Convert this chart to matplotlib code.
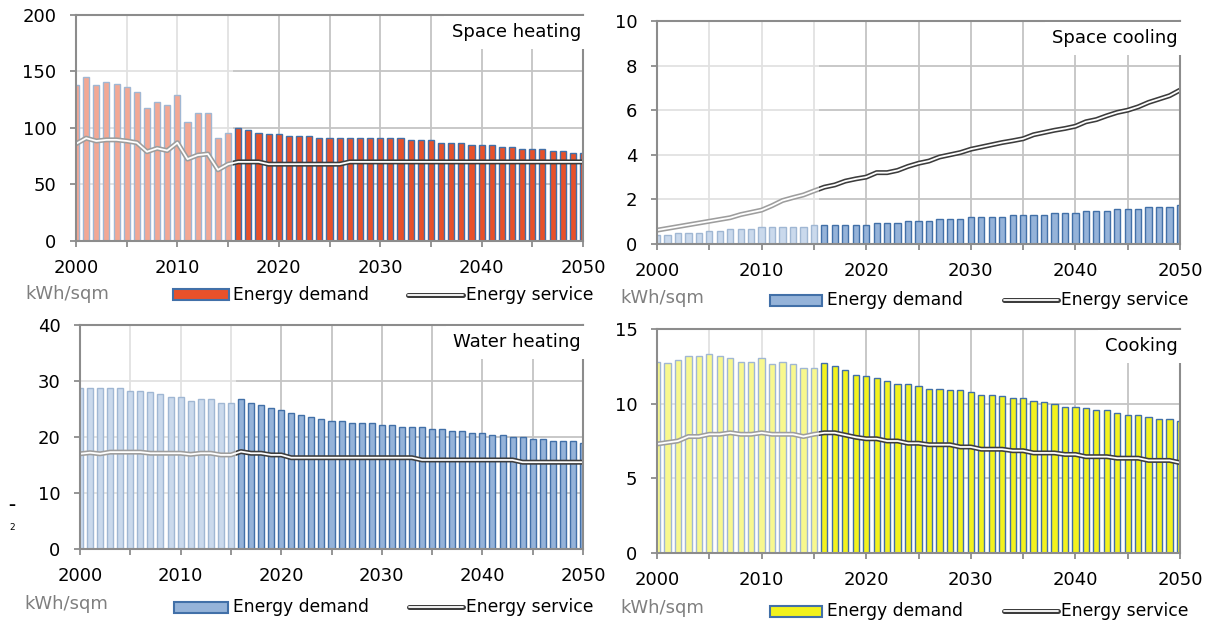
import numpy as np
import matplotlib
matplotlib.use("Agg")
import matplotlib.pyplot as plt
from matplotlib.patches import Rectangle
from matplotlib.lines import Line2D

plt.rcParams['font.family'] = ['DejaVu Sans']

W, H = 1212, 621

# ---------------- data ----------------
years = list(range(2000, 2051))

sh_demand = [138, 145, 138, 141, 139, 136, 132, 118, 123, 120,
             129, 105, 113, 113, 91, 96, 100, 98, 96, 94.5,
             94.5, 92.5, 92.5, 92.5, 91, 91, 91, 91, 91, 91,
             91, 91, 91, 89, 89, 89, 87, 87, 87, 85,
             85, 85, 83, 83, 81, 81, 81, 79.5, 79.5, 77.5,
             77.5]
sh_service = [86, 91, 88.5, 89.5, 89.5, 88.5, 87, 79, 82, 80,
              87, 72.5, 76, 77, 63, 68, 70, 70, 70, 68,
              68, 68, 68, 68, 68, 68, 68, 70, 70, 70,
              70, 70, 70, 70, 70, 70, 70, 70, 70, 70,
              70, 70, 70, 70, 70, 70, 70, 70, 70, 70,
              70]

sc_demand = [0.42, 0.42, 0.5, 0.5, 0.5, 0.6, 0.6, 0.67, 0.67, 0.67,
             0.75, 0.75, 0.75, 0.75, 0.75, 0.83, 0.83, 0.83, 0.83, 0.83,
             0.83, 0.94, 0.94, 0.94, 1.03, 1.03, 1.03, 1.12, 1.12, 1.12,
             1.2, 1.2, 1.2, 1.2, 1.3, 1.3, 1.3, 1.3, 1.39, 1.39,
             1.39, 1.48, 1.48, 1.48, 1.56, 1.56, 1.56, 1.65, 1.65, 1.65,
             1.73]
sc_service = [0.62, 0.7, 0.78, 0.86, 0.94, 1.02, 1.1, 1.18, 1.32, 1.42,
              1.52, 1.72, 1.95, 2.08, 2.2, 2.38, 2.55, 2.65, 2.82, 2.92,
              3.0, 3.2, 3.2, 3.3, 3.48, 3.62, 3.72, 3.9, 4.0, 4.1,
              4.25, 4.35, 4.45, 4.55, 4.63, 4.72, 4.9, 5.0, 5.1, 5.18,
              5.28, 5.48, 5.58, 5.75, 5.9, 6.0, 6.15, 6.35, 6.5, 6.65,
              6.9]

wh_demand = [28.7, 28.7, 28.7, 28.7, 28.7, 28.3, 28.3, 28.0, 27.6, 27.2,
             27.2, 26.5, 26.8, 26.8, 26.1, 26.1, 26.8, 26.1, 25.8, 25.1,
             24.8, 24.3, 23.9, 23.6, 23.2, 22.9, 22.9, 22.5, 22.5, 22.5,
             22.1, 22.1, 21.8, 21.8, 21.8, 21.4, 21.4, 21.1, 21.1, 20.7,
             20.7, 20.4, 20.4, 20.0, 20.0, 19.6, 19.6, 19.3, 19.3, 19.3,
             18.9]
wh_service = [17.0, 17.2, 17.0, 17.3, 17.3, 17.3, 17.3, 17.1, 17.1, 17.1,
              17.1, 16.9, 17.1, 17.1, 16.8, 16.8, 17.4, 17.1, 17.1, 16.8,
              16.8, 16.3, 16.3, 16.3, 16.3, 16.3, 16.3, 16.3, 16.3, 16.3,
              16.3, 16.3, 16.3, 16.3, 15.9, 15.9, 15.9, 15.9, 15.9, 15.9,
              15.9, 15.9, 15.9, 15.9, 15.5, 15.5, 15.5, 15.5, 15.5, 15.5,
              15.5]

ck_demand = [12.8, 12.7, 12.95, 13.2, 13.2, 13.35, 13.2, 13.05, 12.8, 12.8,
             13.05, 12.65, 12.8, 12.65, 12.4, 12.4, 12.7, 12.55, 12.25, 11.95,
             11.85, 11.7, 11.55, 11.3, 11.3, 11.15, 11.0, 11.0, 10.9, 10.9,
             10.75, 10.6, 10.6, 10.5, 10.35, 10.35, 10.2, 10.1, 9.95, 9.8,
             9.8, 9.7, 9.55, 9.55, 9.4, 9.25, 9.25, 9.1, 9.0, 9.0,
             8.85]
ck_service = [7.3, 7.4, 7.5, 7.8, 7.8, 7.95, 7.95, 8.05, 7.95, 7.95,
              8.05, 7.95, 7.95, 7.95, 7.8, 7.95, 8.05, 8.05, 7.9, 7.75,
              7.65, 7.65, 7.5, 7.5, 7.35, 7.35, 7.25, 7.25, 7.25, 7.1,
              7.1, 6.95, 6.95, 6.95, 6.85, 6.85, 6.7, 6.7, 6.7, 6.6,
              6.6, 6.45, 6.45, 6.45, 6.35, 6.35, 6.35, 6.2, 6.2, 6.2,
              6.05]

titles = ["Space heating", "Space cooling", "Water heating", "Cooking"]
y_max = [200, 10, 40, 15]
y_step = [50, 2, 10, 5]
legend_labels = ["Energy demand", "Energy service"]
unit_label = "kWh/sqm"
x_ticks_major = [2000, 2010, 2020, 2030, 2040, 2050]

# ---------------- styling ----------------
ORANGE = "#E8512A"
LBLUE = "#95B3D9"
YELLOW = "#F2F21E"
EDGE = "#4270A8"
DARK = "#3C3C3C"
GRID = "#C4C4C4"
SPINE = "#8C8C8C"

fills = [ORANGE, LBLUE, LBLUE, YELLOW]
demand = [sh_demand, sc_demand, wh_demand, ck_demand]
service = [sh_service, sc_service, wh_service, ck_service]

# axes boxes in pixels: left, right, top, bottom
boxes = [(76, 583, 15, 241), (657, 1180, 21, 244),
         (80, 583, 325, 549), (657, 1180, 329, 553)]

# legend layout in pixels
legends = [
    dict(kx=25, ky=294, px0=173, px1=229, py=295, tx1=233, lx0=408, lx1=463, tx2=466),
    dict(kx=620, ky=298, px0=770, px1=822, py=300, tx1=827, lx0=1004, lx1=1058, tx2=1061),
    dict(kx=24, ky=604, px0=174, px1=228, py=607, tx1=233, lx0=409, lx1=463, tx2=466),
    dict(kx=620, ky=608, px0=770, px1=822, py=611, tx1=827, lx0=1004, lx1=1058, tx2=1061),
]

fig = plt.figure(figsize=(W / 100, H / 100), dpi=100)


def fx(x):
    return x / W


def fy(y):
    return 1 - y / H


for i in range(4):
    l, r, t, b = boxes[i]
    ax = fig.add_axes([fx(l), fy(b), (r - l) / W, (b - t) / H])
    ax.set_xlim(2000, 2050)
    ax.set_ylim(0, y_max[i])
    ax.set_axisbelow(True)

    ax.bar(years, demand[i], width=0.6, color=fills[i], edgecolor=EDGE,
           linewidth=1.0, zorder=2)
    ax.plot(years, service[i], color=DARK, lw=3.6, zorder=3,
            solid_capstyle='butt', solid_joinstyle='round')
    ax.plot(years, service[i], color='white', lw=1.3, zorder=3.1,
            solid_capstyle='butt', solid_joinstyle='round')

    # faded historical period
    ax.axvspan(1999, 2015.5, color='white', alpha=0.5, lw=0, zorder=4)

    ax.set_xticks(list(range(2000, 2051, 5)))
    ax.set_xticklabels([str(y) if y in x_ticks_major else "" for y in range(2000, 2051, 5)])
    ax.set_yticks(np.arange(0, y_max[i] + 0.001, y_step[i]))
    ax.set_yticklabels([f"{v:g}" for v in np.arange(0, y_max[i] + 0.001, y_step[i])])
    ax.grid(True, color=GRID, lw=1.3)
    ax.tick_params(axis='both', length=4, width=1.3, color=SPINE,
                   labelsize=13, labelcolor='black')
    ax.tick_params(axis='x', pad=9)
    ax.tick_params(axis='y', pad=10)
    for sp in ax.spines.values():
        sp.set_color(SPINE)
        sp.set_linewidth(1.5)
        sp.set_zorder(5)

    ax.annotate(titles[i], xy=(1, 1), xycoords='axes fraction',
                xytext=(-1.5, -6), textcoords='offset points',
                ha='right', va='top', fontsize=13, zorder=6,
                bbox=dict(boxstyle='square,pad=0.4', fc='white', ec='none'))

    # legend (drawn manually at figure level)
    lg = legends[i]
    fig.text(fx(lg['kx']), fy(lg['ky']), unit_label, color='#7F7F7F',
             fontsize=13, ha='left', va='center')
    fig.add_artist(Rectangle((fx(lg['px0']), fy(lg['py'] + 5.5)),
                             (lg['px1'] - lg['px0']) / W, 11 / H,
                             transform=fig.transFigure, facecolor=fills[i],
                             edgecolor=EDGE, lw=1.5))
    fig.text(fx(lg['tx1']), fy(lg['py']), legend_labels[0], fontsize=12.3,
             ha='left', va='center')
    fig.add_artist(Line2D([fx(lg['lx0']), fx(lg['lx1'])], [fy(lg['py'])] * 2,
                          transform=fig.transFigure, color=DARK, lw=3.6,
                          solid_capstyle='round'))
    fig.add_artist(Line2D([fx(lg['lx0']), fx(lg['lx1'])], [fy(lg['py'])] * 2,
                          transform=fig.transFigure, color='white', lw=1.3,
                          solid_capstyle='round'))
    fig.text(fx(lg['tx2']), fy(lg['py']), legend_labels[1], fontsize=12.3,
             ha='left', va='center')

# stray marks at left edge of the original
fig.text(fx(8), fy(505), "\u2013", fontsize=10, fontweight='bold', ha='left', va='center')
fig.text(fx(9), fy(527), "2", fontsize=6.5, ha='left', va='center')

fig.savefig("out.png", dpi=100)
